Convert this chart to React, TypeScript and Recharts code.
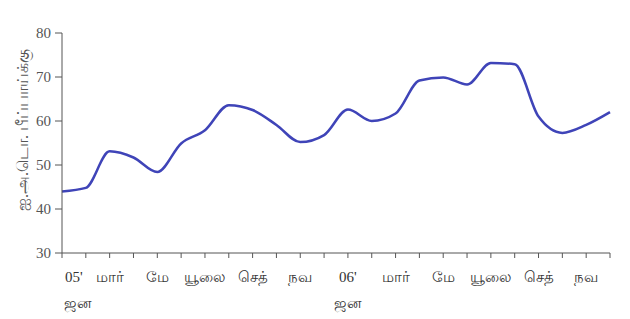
import React from "react";
import { LineChart, Line, XAxis, YAxis } from "recharts";

// monthly prices, Jan 2005 - Dec 2006
const months = [
  "ஜன", "பெப்", "மார்", "ஏப்", "மே", "ஜூன்", "யூலை", "ஆக", "செத்", "ஒக்", "நவ", "டிச",
  "ஜன", "பெப்", "மார்", "ஏப்", "மே", "ஜூன்", "யூலை", "ஆக", "செத்", "ஒக்", "நவ", "டிச",
];
const years = ["05'", "", "", "", "", "", "", "", "", "", "", "", "06'", "", "", "", "", "", "", "", "", "", "", ""];
const prices = [
  44, 44.8, 53.1, 51.7, 48.4, 54.9, 57.9, 63.6, 62.5, 59.1, 55.2, 56.8,
  62.6, 60, 61.7, 69.2, 69.9, 68.3, 73.2, 72.9, 61, 57.3, 59.1, 62,
];
const yTicks = [30, 40, 50, 60, 70, 80];

const data = months.map((m, i) => ({ month: m, year: years[i], price: prices[i] }));

const font = "'Liberation Serif', 'Times New Roman', serif";

const MonthTick = (props: any) => {
  const { x, y, index } = props;
  if (index % 2 !== 0) return null;
  const d = data[index];
  const anchor = index === 0 ? "start" : "middle";
  if (d.year) {
    return (
      <g>
        <text x={index === 0 ? x + 3 : x} y={y + 22} textAnchor={anchor} fontSize={15} fill="#333" fontFamily={font}>
          {d.year}
        </text>
        <text x={index === 0 ? x + 2 : x} y={y + 48} textAnchor={anchor} fontSize={15} fill="#333" fontFamily={font}>
          {d.month}
        </text>
      </g>
    );
  }
  return (
    <text x={x} y={y + 22} textAnchor={anchor} fontSize={15} fill="#333" fontFamily={font}>
      {d.month}
    </text>
  );
};

const App = () => {
  return (
    <div style={{ position: "absolute", left: 0, top: 0, background: "#fff" }}>
      <LineChart
        width={630}
        height={319}
        data={data}
        margin={{ top: 33, right: 20, left: 0, bottom: 6 }}
      >
        <XAxis
          dataKey="month"
          interval={0}
          height={60}
          tick={<MonthTick />}
          tickLine={{ stroke: "#555" }}
          axisLine={{ stroke: "#555" }}
          tickSize={5}
        />
        <YAxis
          domain={[30, 80]}
          ticks={yTicks}
          width={62}
          tickSize={7}
          tickMargin={4}
          tick={{ fill: "#555", fontSize: 15, fontFamily: font }}
          tickLine={{ stroke: "#555" }}
          axisLine={{ stroke: "#555" }}
          label={{
            content: () => (
              <text
                x={24}
                y={130}
                transform="rotate(-90 24 130)"
                textAnchor="middle"
                dominantBaseline="middle"
                fontSize={16}
                fill="#555"
                fontFamily={font}
              >
                ஐ.அ.டொ. பீப்பாய்க்கு
              </text>
            ),
          }}
        />
        <Line
          type="monotone"
          dataKey="price"
          stroke="#3f44b8"
          strokeWidth={2.5}
          dot={false}
          isAnimationActive={false}
        />
      </LineChart>
    </div>
  );
};

export default App;
